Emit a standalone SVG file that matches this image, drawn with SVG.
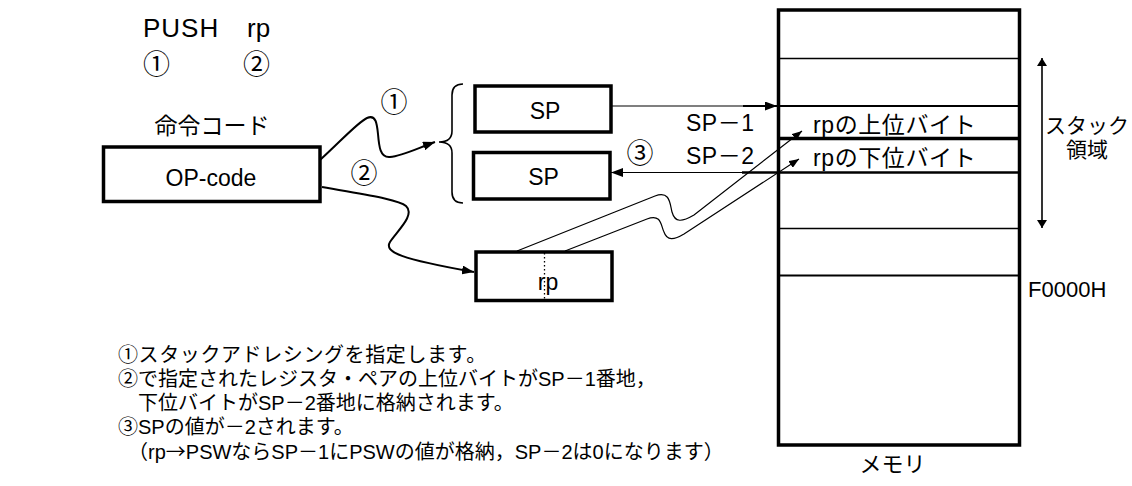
<svg xmlns="http://www.w3.org/2000/svg" width="1132" height="486" viewBox="0 0 1132 486">
<defs>
<style>
text{font-family:"Liberation Sans","Noto Sans CJK JP",sans-serif;fill:#000;}
.lbl{font-size:23px;}
.c{text-anchor:middle;}
.num{font-size:27px;text-anchor:middle;}
.box{fill:#fff;stroke:#000;stroke-width:3.5;}
.curve{fill:none;stroke:#000;stroke-width:2;}
.thin{fill:none;stroke:#000;stroke-width:1.2;}
.row{stroke:#000;fill:none;}
.note{font-size:20px;}
.cjk{font-family:"Noto Sans CJK JP",sans-serif;}
</style>
<marker id="ah" viewBox="0 0 10 8" refX="10" refY="4" markerWidth="10" markerHeight="8" markerUnits="userSpaceOnUse" orient="auto"><path d="M0,0 L10,4 L0,8 Z" fill="#000"/></marker>
<marker id="ahB" viewBox="0 0 12 9" refX="12" refY="4.5" markerWidth="12" markerHeight="9" markerUnits="userSpaceOnUse" orient="auto"><path d="M0,0 L12,4.5 L0,9 Z" fill="#000"/></marker>
<marker id="ahS" viewBox="0 0 8 10" refX="8" refY="5" markerWidth="8" markerHeight="10" markerUnits="userSpaceOnUse" orient="auto-start-reverse"><path d="M0,0 L8,5 L0,10 Z" fill="#000"/></marker>
</defs>
<rect width="1132" height="486" fill="#fff"/>

<g id="title">
<text x="143" y="37" style="font-size:26px;letter-spacing:1px">PUSH</text>
<text x="247" y="37" style="font-size:26px">rp</text>
<text x="156.5" y="74" class="num">①</text>
<text x="256.5" y="74" class="num">②</text>
</g>

<g id="opcode">
<text x="212" y="134" class="lbl c">命令コード</text>
<rect class="box" x="103.5" y="147" width="216.5" height="54.5"/>
<text x="211" y="186" class="lbl c">OP-code</text>
</g>

<g id="sp1">
<rect class="box" x="475" y="86" width="136" height="46"/>
<text x="545" y="119" class="lbl c">SP</text>
</g>

<g id="sp2">
<rect class="box" x="473.5" y="152.5" width="136.5" height="46.5"/>
<text x="543.5" y="185" class="lbl c">SP</text>
</g>

<g id="rp">
<rect class="box" x="476" y="252" width="136" height="48.5"/>
<text x="548" y="290" class="lbl c">rp</text>
<line x1="544.5" y1="253" x2="544.5" y2="300" stroke="#000" stroke-width="1.3" stroke-dasharray="1.5 2.5"/>
</g>

<g id="memory">
<rect x="778.5" y="10" width="241" height="435" fill="#fff" stroke="#000" stroke-width="3.5"/>
<line class="row" x1="778" y1="58.5" x2="1020" y2="58.5" stroke-width="1.6"/>
<line class="row" x1="743" y1="106" x2="1020" y2="106" stroke-width="2.2"/>
<line class="row" x1="778" y1="138.5" x2="1020" y2="138.5" stroke-width="3.5"/>
<line class="row" x1="742" y1="172.5" x2="1020" y2="172.5" stroke-width="2.4"/>
<line class="row" x1="778" y1="228.5" x2="1020" y2="228.5" stroke-width="1.6"/>
<line class="row" x1="778" y1="275.5" x2="1020" y2="275.5" stroke-width="2"/>
<text x="813" y="133" class="lbl" style="letter-spacing:0.6px">rpの上位バイト</text>
<text x="813" y="166" class="lbl" style="letter-spacing:0.6px">rpの下位バイト</text>
<text x="1028" y="297" style="font-size:22px">F0000H</text>
<text x="892.5" y="472" class="c" style="font-size:22px">メモリ</text>
</g>

<g id="stack-area">
<line x1="1042" y1="58" x2="1042" y2="228" stroke="#000" stroke-width="1.6" marker-start="url(#ahS)" marker-end="url(#ahS)"/>
<text x="1087" y="133" class="c" style="font-size:21px">スタック</text>
<text x="1087" y="157" class="c" style="font-size:21px">領域</text>
</g>

<g id="connectors">
<path class="curve" d="M320,160 C340,142 358,122 367,118 C376,114 377,124 378,134 C379,146 380,158 390,157 C402,156 418,148 435,142" marker-end="url(#ahB)"/>
<path class="curve" d="M322,187 C360,194 398,199 406,206 C416,215 396,232 390,242 C384,252 400,259 474,272" marker-end="url(#ahB)"/>
<path d="M463,84 Q452,84 452,95 L452,131 Q452,142 439,142 Q452,142 452,153 L452,192 Q452,203 463,203" fill="none" stroke="#000" stroke-width="1.6"/>
<line class="thin" x1="611" y1="106" x2="777" y2="106" marker-end="url(#ahB)"/>
<line class="thin" x1="777" y1="172.5" x2="611" y2="172.5" marker-end="url(#ahB)"/>
<path class="thin" d="M517,251 L655,196 C670,190 670,204 672,212 C675,223 682,222 694,215 L802,131" marker-end="url(#ah)"/>
<path class="thin" d="M565,251 L647,219 C662,213 661,227 664,232 C667,241 674,240 684,234 L799,159" marker-end="url(#ah)"/>
</g>

<g id="labels">
<text x="394" y="111.5" class="num">①</text>
<text x="364" y="182.5" class="num">②</text>
<text x="640" y="163" class="num">③</text>
<text x="686" y="131" class="lbl" style="letter-spacing:0.5px">SP－1</text>
<text x="686" y="164" class="lbl" style="letter-spacing:0.5px">SP－2</text>
</g>

<g id="notes" class="note">
<text x="118" y="362" style="letter-spacing:0.6px">①スタックアドレシングを指定します。</text>
<text x="118" y="386">②で指定されたレジスタ・ペアの上位バイトがSP－1番地，</text>
<text x="118" y="410">　下位バイトがSP－2番地に格納されます。</text>
<text x="118" y="434">③SPの値が－2されます。</text>
<text x="118" y="459">　（rp<tspan class="cjk">→</tspan>PSWならSP－1にPSWの値が格納，SP－2は0になります）</text>
</g>
</svg>
